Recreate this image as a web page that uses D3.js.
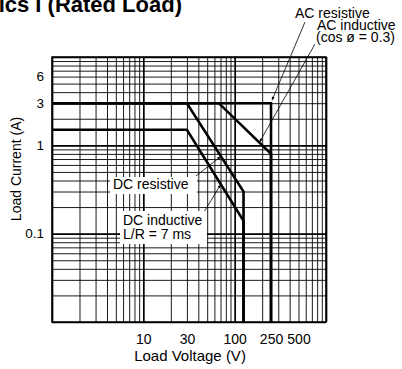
<!DOCTYPE html>
<html>
<head>
<meta charset="utf-8">
<script src="https://cdn.jsdelivr.net/npm/d3@7"></script>
<style>
  html, body { margin: 0; padding: 0; background: #fff; }
  svg text { font-family: "Liberation Sans", Arial, Helvetica, sans-serif; fill: #000; }
  .grid line { stroke: #000; stroke-width: 0.9; }
  .grid .domain { display: none; }
  .ticks .domain, .ticks line { display: none; }
  .curve { fill: none; stroke: #000; stroke-width: 2.6; stroke-linejoin: miter; }
  .leader { stroke: #000; stroke-width: 0.8; }
</style>
</head>
<body>
<div id="chart"></div>
<script>
/*********************************************************
 * DATA
 *********************************************************/
const xTicks = [10, 30, 100, 250, 500];      // Load Voltage (V)
const yTicks = [6, 3, 1, 0.1];                // Load Current (A)

const acResV = [1, 250, 250];                 // AC resistive
const acResI = [3, 3, 0.01];
const acIndV = [1, 67, 250, 250];             // AC inductive (cos ø = 0.3)
const acIndI = [3, 3, 0.8, 0.01];
const dcResV = [1, 30, 125, 125];             // DC resistive
const dcResI = [3, 3, 0.3, 0.01];
const dcIndV = [1, 30, 125, 125];             // DC inductive L/R = 7 ms
const dcIndI = [1.5, 1.5, 0.14, 0.01];

/*********************************************************
 * LAYOUT
 *********************************************************/
const W = 402, H = 369;
const L = 52, T = 57, R = 326, B = 322;

const svg = d3.select("#chart").append("svg")
    .attr("width", W).attr("height", H);

const x = d3.scaleLog().domain([1, 1000]).range([L, R]);
const y = d3.scaleLog().domain([0.01, 10]).range([B, T]);

const isDecade = v => Math.abs(Math.log10(v) - Math.round(Math.log10(v))) < 1e-9;

/*  log grid  */
svg.append("g").attr("class", "grid")
   .attr("transform", `translate(0,${B})`)
   .call(d3.axisBottom(x).tickValues(x.ticks()).tickSize(-(B - T)).tickFormat(""))
   .selectAll("line").style("stroke-width", d => isDecade(d) ? 1.7 : null);

svg.append("g").attr("class", "grid")
   .attr("transform", `translate(${L},0)`)
   .call(d3.axisLeft(y).tickValues(y.ticks()).tickSize(-(R - L)).tickFormat(""))
   .selectAll("line").style("stroke-width", d => isDecade(d) ? 1.7 : null);

/*  frame  */
svg.append("rect")
   .attr("x", L).attr("y", T).attr("width", R - L).attr("height", B - T)
   .attr("fill", "none").attr("stroke", "#000").attr("stroke-width", 1.5);

/*  tick labels  */
svg.append("g").attr("class", "ticks")
   .attr("transform", `translate(0,${B})`)
   .call(d3.axisBottom(x).tickValues(xTicks).tickSize(0).tickPadding(12)
         .tickFormat(d3.format("d")))
   .selectAll("text").style("font-size", "14px");

svg.append("g").attr("class", "ticks")
   .attr("transform", `translate(${L},0)`)
   .call(d3.axisLeft(y).tickValues(yTicks).tickSize(0).tickPadding(8)
         .tickFormat(d => d < 1 ? d3.format(".1f")(d) : d3.format("d")(d)))
   .selectAll("text").style("font-size", "13.5px");

/*  axis titles  */
svg.append("text").attr("x", 190).attr("y", 361)
   .attr("text-anchor", "middle").style("font-size", "15px")
   .text("Load Voltage (V)");

svg.append("text").attr("transform", "translate(21,169) rotate(-90)")
   .attr("text-anchor", "middle").style("font-size", "14px")
   .text("Load Current (A)");

/*  title (cut off at the top in the source)  */
svg.append("text").attr("x", 182).attr("y", 11.5)
   .attr("text-anchor", "end").style("font-size", "22px").style("font-weight", "bold")
   .text("Characteristics I (Rated Load)");

/*********************************************************
 * CURVES
 *********************************************************/
const line = d3.line().x(d => x(d[0])).y(d => y(d[1])).curve(d3.curveLinear);
const curves = [
  [acResV, acResI], [acIndV, acIndI], [dcResV, dcResI], [dcIndV, dcIndI]
];
curves.forEach(([v, i]) => {
  svg.append("path").attr("class", "curve")
     .attr("d", line(v.map((vv, k) => [vv, i[k]])));
});

/*  current on a curve at a given voltage (log-log interpolation)  */
function currentAt(v, i, volt) {
  for (let k = 0; k < v.length - 1; k++) {
    if (volt >= v[k] && volt <= v[k + 1] && v[k + 1] > v[k]) {
      const t = (Math.log(volt) - Math.log(v[k])) / (Math.log(v[k + 1]) - Math.log(v[k]));
      return Math.exp(Math.log(i[k]) + t * (Math.log(i[k + 1]) - Math.log(i[k])));
    }
  }
  return i[0];
}

/*********************************************************
 * ANNOTATIONS
 *********************************************************/
svg.append("defs").append("marker")
   .attr("id", "arr").attr("viewBox", "0 0 10 10").attr("refX", 10).attr("refY", 5)
   .attr("markerWidth", 5).attr("markerHeight", 4).attr("orient", "auto")
   .append("path").attr("d", "M0,0L10,5L0,10Z").attr("fill", "#000");

function leader(x1, y1, x2, y2) {
  svg.append("line").attr("class", "leader")
     .attr("x1", x1).attr("y1", y1).attr("x2", x2).attr("y2", y2)
     .attr("marker-end", "url(#arr)");
}

// AC resistive -> corner of the 3 A line at 250 V
leader(305, 22, x(250) + 1, y(3) - 3);
// AC inductive -> its sloped part
leader(315, 44, x(188), y(currentAt(acIndV, acIndI, 188)) - 1);
// DC resistive / DC inductive -> sloped parts
leader(196, 176, x(70), y(currentAt(dcResV, dcResI, 70)) + 1);
leader(204, 212, x(70), y(currentAt(dcIndV, dcIndI, 70)) + 1);

const note = (tx, ty, s) => svg.append("text").attr("x", tx).attr("y", ty)
                              .style("font-size", "14px").text(s);

note(295, 18, "AC resistive");
note(317, 30, "AC inductive");
note(316, 42, "(cos ø = 0.3)");

svg.append("rect").attr("x", 110).attr("y", 177).attr("width", 87).attr("height", 17).attr("fill", "#fff");
note(113, 189, "DC resistive");

svg.append("rect").attr("x", 120).attr("y", 211).attr("width", 87).attr("height", 33).attr("fill", "#fff");
note(123, 225, "DC inductive");
note(123, 239, "L/R = 7 ms");
</script>
</body>
</html>
